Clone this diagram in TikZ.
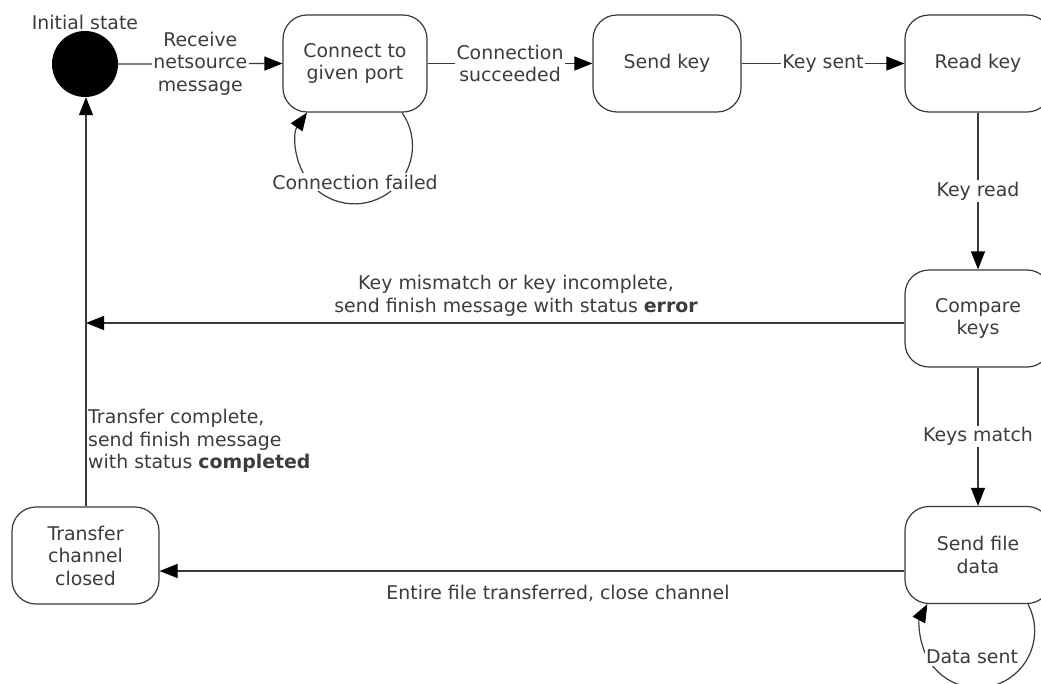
\documentclass[tikz,border=0pt]{standalone}
\usepackage{fontspec}
\setmainfont{DejaVu Sans}
\usetikzlibrary{arrows.meta,calc}
\definecolor{ink}{HTML}{3A3A3A}
\definecolor{txt}{HTML}{3C3C3C}
\begin{document}
\begin{tikzpicture}[x=1pt,y=-1pt,
  every node/.style={font=\fontsize{18.9}{22.5}\selectfont, text=txt},
  state/.style={draw=ink, line width=1.2pt, rounded corners=24pt,
    minimum width=#1, minimum height=97pt, align=center, inner sep=0pt},
  state/.default=146pt,
  arr/.style={draw=ink, line width=1.2pt, -{Triangle[length=18pt,width=14pt,color=black]}},
  lbl/.style={fill=white, inner sep=1.5pt, align=center}]
\useasboundingbox (0,0) rectangle (1041,683);
\fill[white] (0,0) rectangle (1041,683);

% states
\node[circle, fill=black, minimum size=66pt, inner sep=0pt] (init) at (85,64) {};
\node (initlbl) at (85,22) {Initial state};
\node[state=144pt] (connect) at (355,63.5) {Connect to\\given port};
\node[state=148pt] (sendkey) at (667,63.5) {Send key};
\node[state] (readkey) at (978,63.5) {Read key};
\node[state] (compare) at (978,318.5) {Compare\\keys};
\node[state] (sendfile) at (978,555) {Send file\\data};
\node[state=147pt] (closed) at (85.5,555.5) {Transfer\\channel\\closed};
\coordinate (errend) at (86,323);

% transitions
\draw[arr] (init.east) -- node[lbl] (l1) {Receive\\netsource\\message} (connect.west);
\draw[arr] (connect.east) -- node[lbl] (l2) {Connection\\succeeded} (sendkey.west);
\draw[arr] (sendkey.east) -- node[lbl] (l3) {Key sent} (readkey.west);
\draw[arr] (readkey.south) -- node[lbl] (l4) {Key read} (compare.north);
\draw[arr] (compare.south) -- node[lbl] (l5) {Keys match} (sendfile.north);
\draw[arr] ([yshift=-4.5pt]compare.west) -- (errend);
\node[align=center] (l6) at (516,296) {Key mismatch or key incomplete,\\send finish message with status \textbf{error}};
\draw[arr] ([yshift=-16pt]sendfile.west) -- ([yshift=-15.5pt]closed.east);
\node (l7) at (558,593) {Entire file transferred, close channel};
\draw[arr] ([xshift=0.5pt]closed.north) -- ([xshift=1pt]init.south);
\node[align=left, anchor=west, inner sep=0pt] (l8) at (88,441) {Transfer complete,\\send finish message\\with status \textbf{completed}};

% self loops
\draw[arr] ([xshift=47pt]connect.south) arc[start angle=-35, end angle=215, radius=58];
\node[lbl] (l9) at (355,182) {Connection failed};
\draw[arr] ([xshift=50pt]sendfile.south) arc[start angle=-28, end angle=208, radius=57];
\node[lbl] (l10) at (972,657) {Data sent};
\end{tikzpicture}
\end{document}
